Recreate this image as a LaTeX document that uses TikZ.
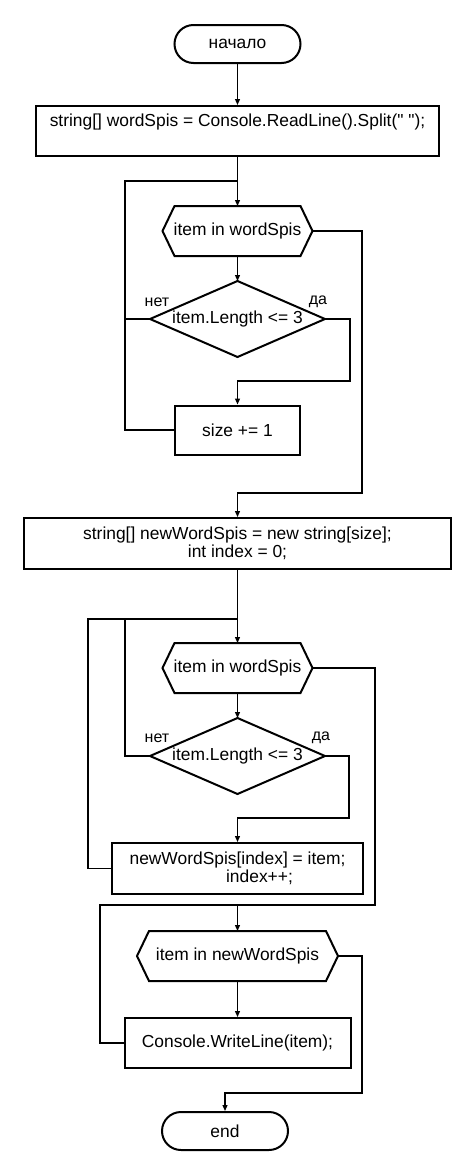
\documentclass[tikz,border=0pt]{standalone}
\usepackage{fontspec}
\setmainfont{Liberation Sans}[Ligatures=TeXOff]
\usetikzlibrary{arrows.meta}
\newcommand{\hexframe}[1]{\draw[line width=2pt] ([xshift=12pt]#1.north west) -- ([xshift=-12pt]#1.north east) -- (#1.east) -- ([xshift=-12pt]#1.south east) -- ([xshift=12pt]#1.south west) -- (#1.west) -- cycle;}
\newcommand{\diamframe}[1]{\draw[line width=2pt] (#1.north) -- (#1.east) -- (#1.south) -- (#1.west) -- cycle;}
\tikzset{
  every node/.style={font=\fontsize{17.4}{18}\selectfont},
  termnode/.style={draw,line width=2pt,rounded corners=19pt,minimum width=126pt,minimum height=38pt,inner sep=0pt},
  procbox/.style={draw,line width=2pt,align=center,inner sep=0pt},
  loopnode/.style={minimum width=150pt,minimum height=50pt,inner sep=0pt,outer sep=0pt},
  condnode/.style={minimum width=175pt,minimum height=76pt,inner sep=0pt,outer sep=0pt},
  answer/.style={font=\fontsize{16}{16}\selectfont,inner sep=0pt},
  flowline/.style={line width=1.2pt},
  flowarrow/.style={flowline,-{Triangle[length=6pt,width=5pt]}}
}

\begin{document}
\begin{tikzpicture}[x=1pt,y=-1pt]
\useasboundingbox (0,0) rectangle (475,1175);
\node[termnode] (start) at (237.5,44) {начало};
\node[procbox,minimum width=403pt,minimum height=50pt,text height=13pt,text depth=23pt] (read) at (237.5,131) {string[] wordSpis = Console.ReadLine().Split(" ");};
\node[loopnode] (loop1) at (237.5,231) {item in wordSpis};
\node[condnode] (cond1) at (237.5,319) {item.Length <= 3};
\node[procbox,minimum width=125pt,minimum height=49pt] (size) at (237.5,430) {size += 1};
\node[procbox,minimum width=427pt,minimum height=51pt] (init) at (237.5,543.5) {string[] newWordSpis = new string[size];\\int index = 0;};
\node[loopnode] (loop2) at (237.5,668) {item in wordSpis};
\node[condnode] (cond2) at (237.5,756) {item.Length <= 3};
\node[procbox,minimum width=251pt,minimum height=51pt] (fill) at (237.5,868.5) {newWordSpis[index] = item;\\\hspace*{44pt}index++;};
\node[loopnode,minimum width=201pt] (loop3) at (237.5,956) {item in newWordSpis};
\node[procbox,minimum width=226pt,minimum height=50pt] (print) at (237.5,1043) {Console.WriteLine(item);};
\node[termnode] (stop) at (225,1131) {end};
\hexframe{loop1}
\hexframe{loop2}
\hexframe{loop3}
\diamframe{cond1}
\diamframe{cond2}
\node[answer] (no1) at (157,302) {нет};
\node[answer] (yes1lbl) at (318,302) {да};
\node[answer] (no2) at (157,738) {нет};
\node[answer] (yes2lbl) at (321,738) {да};

\draw[flowarrow] (start) -- (read);
\draw[flowarrow] (read) -- (loop1);
\draw[flowarrow] (loop1) -- (cond1);
\coordinate (yes1) at (350,381);
\draw[flowarrow] (cond1.east) -| (yes1) -| (size.north);
\coordinate (back1) at (125,181);
\draw[flowline] (size.west) -| (back1) -- (back1 -| read.south);
\draw[flowline] (cond1.west) -- (cond1.west -| back1);
\coordinate (exit1) at (362,493);
\draw[flowarrow] (loop1.east) -| (exit1) -| (init.north);

\draw[flowarrow] (init) -- (loop2);
\draw[flowarrow] (loop2) -- (cond2);
\coordinate (yes2) at (349,818);
\draw[flowarrow] (cond2.east) -| (yes2) -| (fill.north);
\coordinate (back2) at (125,619);
\coordinate (back3) at (88,619);
\draw[flowline] (cond2.west) -| (back2) -- (back2 -| init.south);
\draw[flowline] (fill.west) -| (back3) -- (back2);
\coordinate (exit2) at (375,905);
\draw[flowarrow] (loop2.east) -| (exit2) -| (loop3.north);

\draw[flowarrow] (loop3) -- (print);
\coordinate (back4) at (100,905);
\draw[flowline] (print.west) -| (back4) -- (back4 -| loop3.north);
\coordinate (exit3) at (362,1093);
\draw[flowarrow] (loop3.east) -| (exit3) -| (stop.north);
\end{tikzpicture}
\end{document}
